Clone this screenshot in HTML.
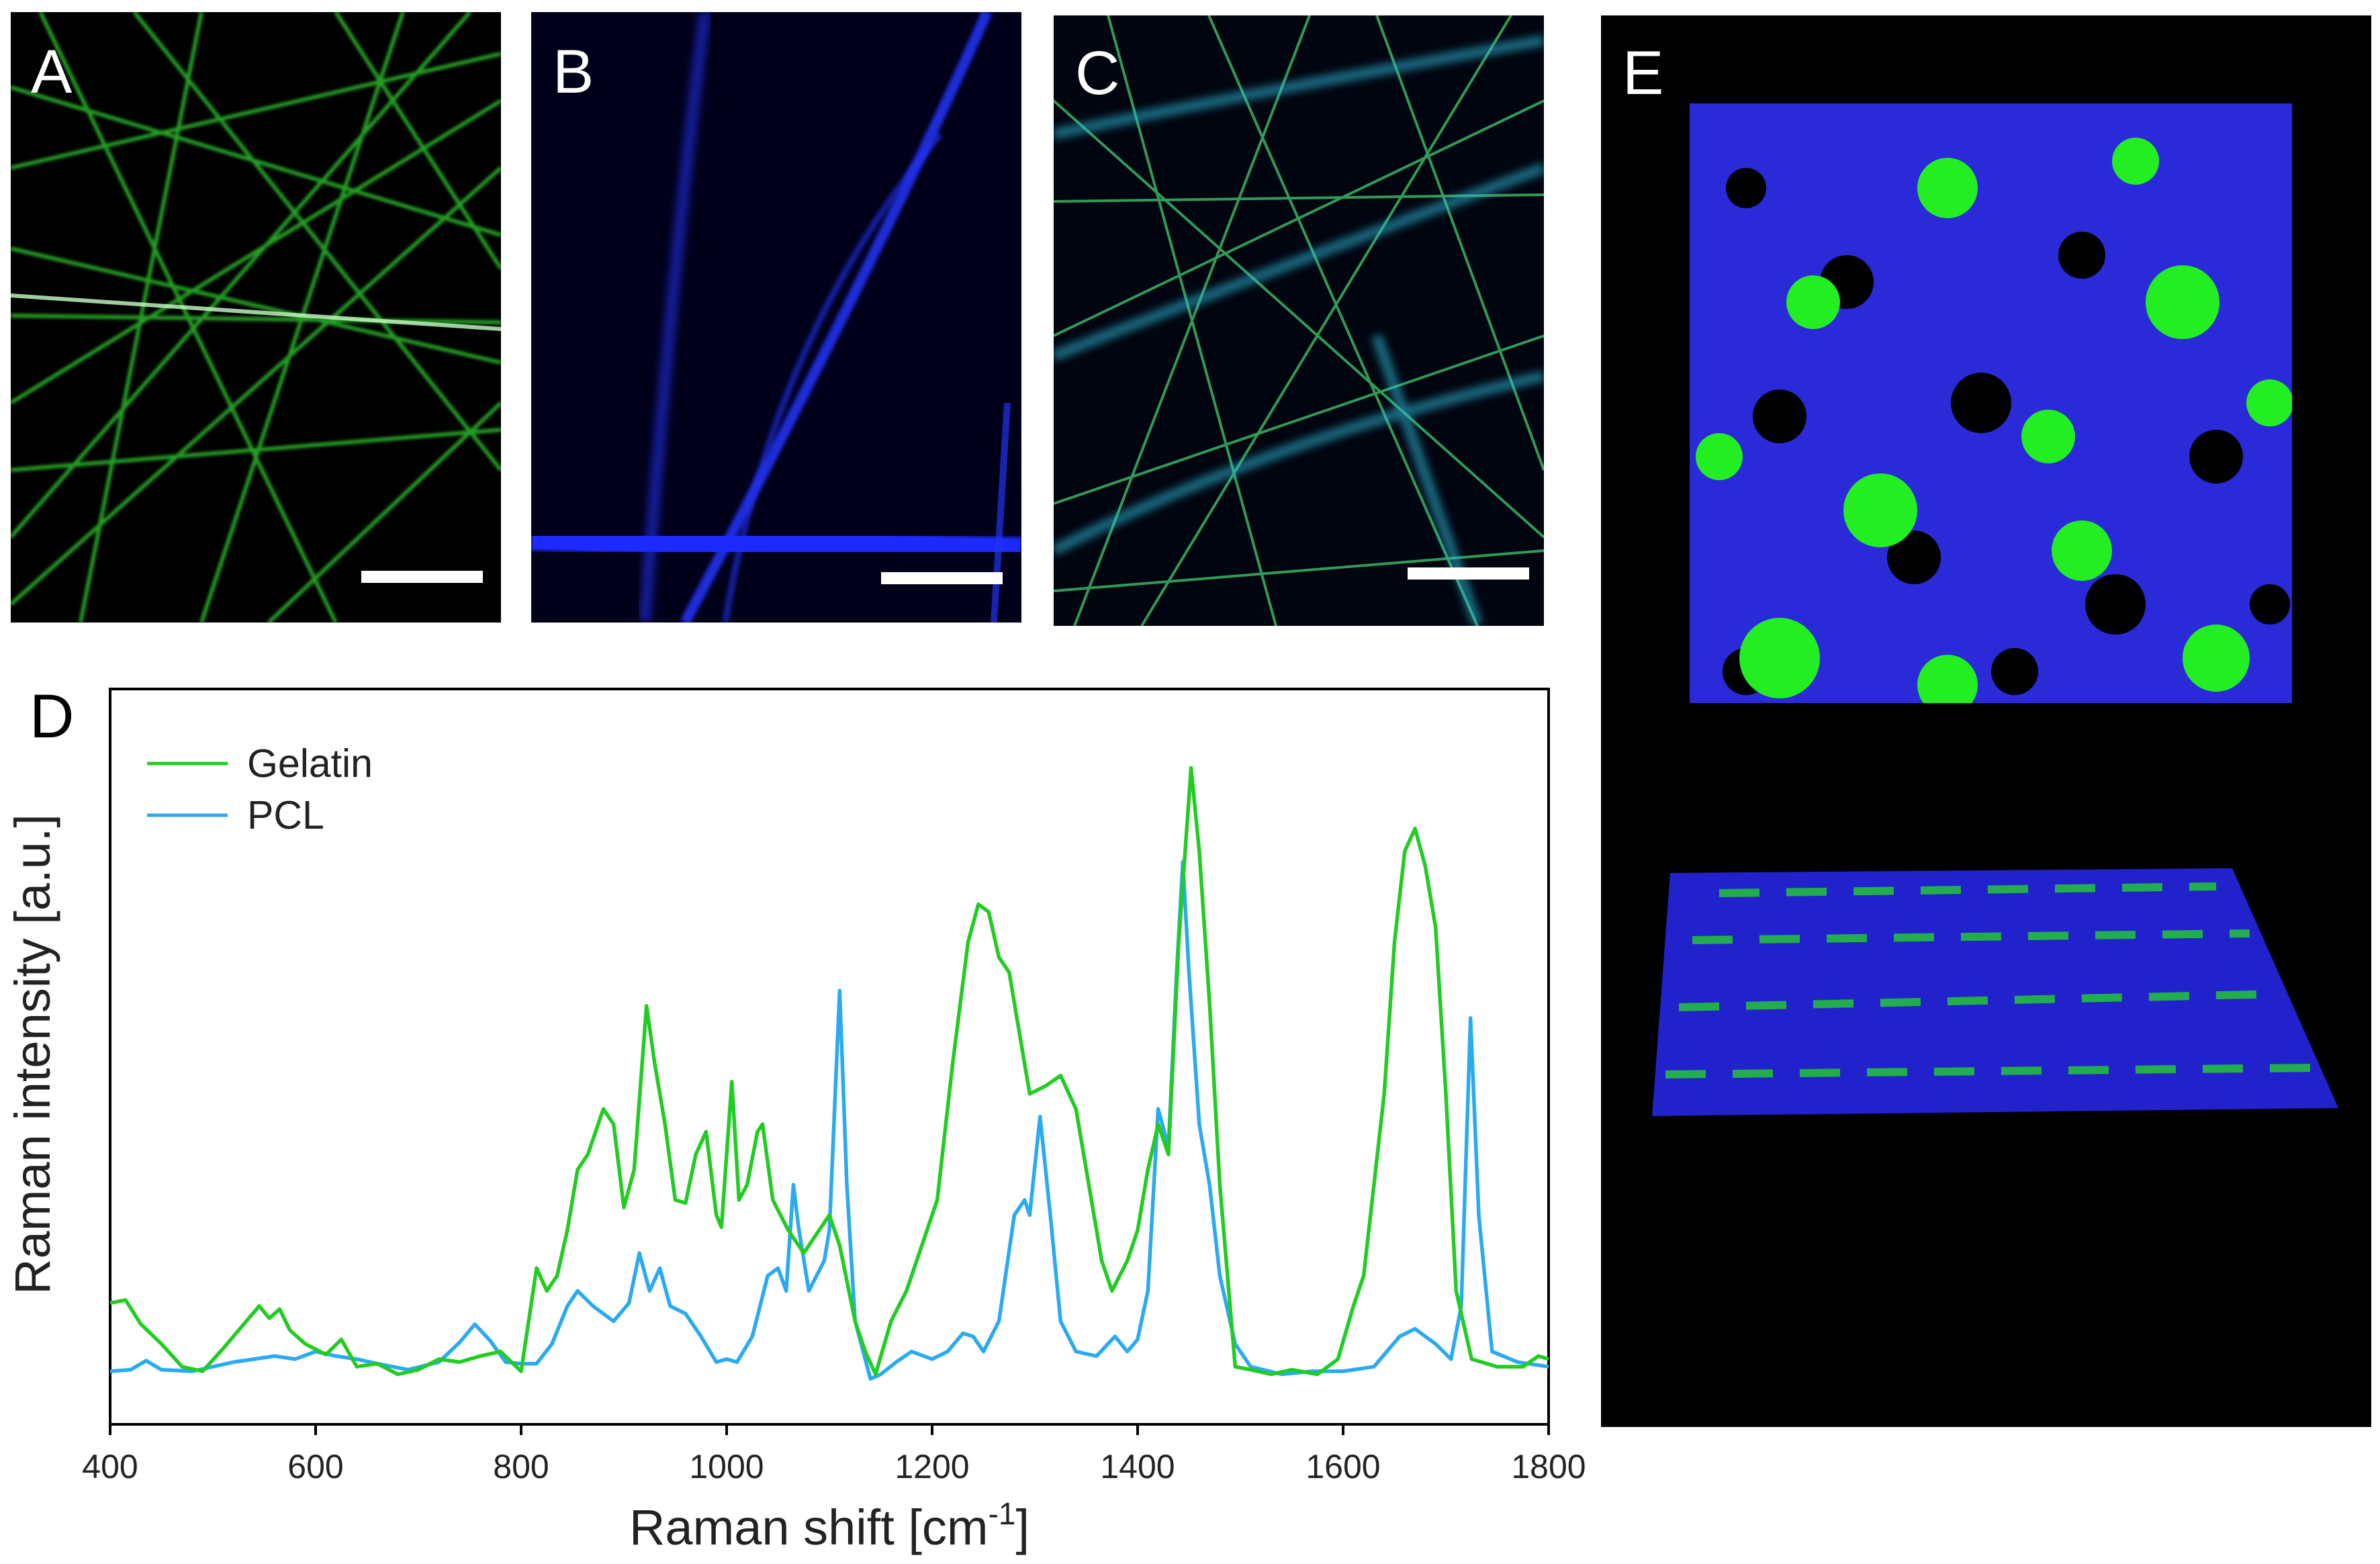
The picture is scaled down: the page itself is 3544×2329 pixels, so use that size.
<!DOCTYPE html>
<html><head><meta charset="utf-8"><style>
html,body{margin:0;padding:0;background:#fff;}
svg{display:block;}
text{font-family:"Liberation Sans",Arial,sans-serif;}
</style></head><body>
<svg id="fig" width="3544" height="2329" viewBox="0 0 3544 2329">
 <defs>
  <filter id="blur6"><feGaussianBlur stdDeviation="6"/></filter>
  <filter id="blur3"><feGaussianBlur stdDeviation="3"/></filter>
  <filter id="blur2"><feGaussianBlur stdDeviation="2"/></filter>
  <clipPath id="cA"><rect x="16" y="18" width="730" height="909"/></clipPath>
  <clipPath id="cB"><rect x="791" y="18" width="730" height="909"/></clipPath>
  <clipPath id="cC"><rect x="1569" y="23" width="730" height="909"/></clipPath>
  <clipPath id="cE"><rect x="2516" y="154" width="897" height="893"/></clipPath>
 </defs>
 <!-- Panel A -->
 <g clip-path="url(#cA)">
  <rect x="16" y="18" width="730" height="909" fill="#000"/>
  <g stroke="#2fc42f" stroke-width="6" fill="none" opacity="0.8" filter="url(#blur2)">
   <line x1="16" y1="370" x2="746" y2="540"/><line x1="16" y1="470" x2="746" y2="480"/>
   <line x1="60" y1="18" x2="500" y2="927"/><line x1="200" y1="18" x2="746" y2="700"/>
   <line x1="16" y1="600" x2="746" y2="150"/><line x1="16" y1="800" x2="700" y2="18"/>
   <line x1="300" y1="18" x2="120" y2="927"/><line x1="400" y1="927" x2="746" y2="600"/>
   <line x1="16" y1="250" x2="746" y2="80"/><line x1="500" y1="18" x2="746" y2="400"/>
   <line x1="16" y1="130" x2="746" y2="350"/><line x1="16" y1="700" x2="746" y2="640"/>
   <line x1="600" y1="18" x2="300" y2="927"/><line x1="16" y1="900" x2="746" y2="250"/>
  </g>
  <line x1="16" y1="440" x2="746" y2="490" stroke="#c8ffc8" stroke-width="6" opacity="0.8"/>
 </g>
 <rect x="538" y="850" width="181" height="18" fill="#fff"/>
 <text x="46" y="138" font-size="92" fill="#fff">A</text>
 <!-- Panel B -->
 <g clip-path="url(#cB)">
  <rect x="791" y="18" width="730" height="909" fill="#00001a"/>
  <g stroke="#2233ee" fill="none">
   <path d="M1050 18 Q1000 400 960 927" stroke-width="18" opacity="0.6" filter="url(#blur6)"/>
   <path d="M1470 18 Q1300 400 1020 927" stroke-width="16" opacity="0.9" filter="url(#blur3)"/>
   <path d="M1400 200 Q1150 500 1080 927" stroke-width="10" opacity="0.6" filter="url(#blur3)"/>
   <line x1="791" y1="800" x2="1521" y2="820" stroke-width="40" stroke="#1a2aff" filter="url(#blur3)"/>
   <line x1="1500" y1="600" x2="1480" y2="927" stroke-width="10" opacity="0.7"/>
  </g>
 </g>
 <rect x="1312" y="852" width="181" height="18" fill="#fff"/>
 <text x="823" y="138" font-size="92" fill="#fff">B</text>
 <!-- Panel C -->
 <g clip-path="url(#cC)">
  <rect x="1569" y="23" width="730" height="909" fill="#000510"/>
  <g stroke="#3fbf6a" stroke-width="4" fill="none" opacity="0.8">
   <line x1="1569" y1="300" x2="2299" y2="290"/><line x1="1569" y1="500" x2="2299" y2="150"/>
   <line x1="1650" y1="23" x2="1900" y2="932"/><line x1="1800" y1="23" x2="2200" y2="932"/>
   <line x1="2250" y1="23" x2="1700" y2="932"/><line x1="1569" y1="750" x2="2299" y2="500"/>
   <line x1="2050" y1="23" x2="2299" y2="700"/><line x1="1569" y1="150" x2="2299" y2="800"/>
   <line x1="1950" y1="23" x2="1600" y2="932"/><line x1="1569" y1="880" x2="2299" y2="820"/>
  </g>
  <g stroke="#30c0e0" fill="none" stroke-width="16" opacity="0.55" filter="url(#blur6)">
   <path d="M1569 200 Q1800 150 2299 60"/><path d="M1569 530 Q1900 400 2299 250"/>
   <path d="M1569 820 Q1900 650 2299 560"/><path d="M2050 500 L2200 930"/>
  </g>
 </g>
 <rect x="2096" y="845" width="181" height="18" fill="#fff"/>
 <text x="1601" y="140" font-size="92" fill="#fff">C</text>
 <!-- Panel E -->
 <rect x="2384" y="23" width="1147" height="2102" fill="#000"/>
 <text x="2416" y="140" font-size="92" fill="#fff">E</text>
 <g clip-path="url(#cE)">
  <rect x="2516" y="154" width="897" height="893" fill="#2a2ad8"/>
  <g fill="#000">
   <circle cx="2600" cy="280" r="30"/><circle cx="2750" cy="420" r="40"/><circle cx="3100" cy="380" r="35"/>
   <circle cx="2650" cy="620" r="40"/><circle cx="2950" cy="600" r="45"/><circle cx="3300" cy="680" r="40"/>
   <circle cx="2850" cy="830" r="40"/><circle cx="3150" cy="900" r="45"/><circle cx="2600" cy="1000" r="35"/>
   <circle cx="3380" cy="900" r="30"/><circle cx="3000" cy="1000" r="35"/>
  </g>
  <g fill="#22ee22">
   <circle cx="2900" cy="280" r="45"/><circle cx="3180" cy="240" r="35"/><circle cx="3250" cy="450" r="55"/>
   <circle cx="2800" cy="760" r="55"/><circle cx="3050" cy="650" r="40"/><circle cx="2650" cy="980" r="60"/>
   <circle cx="3300" cy="980" r="50"/><circle cx="3100" cy="820" r="45"/><circle cx="2700" cy="450" r="40"/>
   <circle cx="3380" cy="600" r="35"/><circle cx="2560" cy="680" r="35"/><circle cx="2900" cy="1020" r="45"/>
  </g>
 </g>
 <g>
  <polygon points="2487,1300 3324,1293 3482,1650 2460,1662" fill="#2222cc"/>
  <g stroke="#22dd22" stroke-width="12" opacity="0.75" stroke-dasharray="60 40">
   <line x1="2520" y1="1400" x2="3350" y2="1390"/><line x1="2500" y1="1500" x2="3400" y2="1480"/>
   <line x1="2480" y1="1600" x2="3450" y2="1590"/><line x1="2560" y1="1330" x2="3300" y2="1320"/>
  </g>
 </g>
 <!-- Chart D -->
 <text x="44" y="1098" font-size="92" fill="#000">D</text>
 <g id="chart"></g>
</svg>
<script>
const gelatinX=[400,415,430,450,470,490,510,530,545,555,565,575,590,610,625,640,660,680,700,720,740,760,780,800,815,825,835,845,855,865,880,890,900,910,922,930,940,950,960,970,980,990,995,1005,1012,1020,1030,1035,1045,1060,1075,1090,1100,1110,1125,1135,1145,1160,1175,1190,1205,1220,1235,1245,1255,1265,1275,1285,1295,1310,1325,1340,1350,1365,1375,1390,1400,1410,1420,1430,1440,1452,1460,1470,1480,1495,1510,1530,1550,1575,1595,1610,1620,1630,1640,1650,1660,1670,1680,1690,1700,1710,1725,1750,1775,1790,1800];
const gelatinPix=[858,856,872,885,900,903,888,872,860,868,862,876,885,892,882,900,898,905,902,895,897,893,890,903,835,850,840,810,770,760,730,740,795,770,662,700,740,790,792,760,745,800,808,712,790,780,745,740,790,810,825,810,800,820,870,890,905,870,850,820,790,700,620,595,600,630,640,680,720,715,708,730,770,830,850,830,810,770,740,760,620,505,560,660,780,900,902,905,902,905,895,860,840,780,720,620,560,545,570,610,720,850,895,900,900,893,895];
const gelatinY=gelatinPix.map(p=>938-p);
const pclX=[400,420,435,450,480,520,560,580,600,620,640,660,690,720,740,755,770,785,800,815,830,845,855,870,890,905,915,925,935,945,960,975,990,1000,1010,1025,1040,1050,1058,1065,1070,1080,1095,1100,1110,1117,1125,1140,1150,1165,1180,1200,1215,1230,1240,1250,1265,1280,1290,1295,1305,1315,1325,1340,1360,1378,1390,1400,1410,1420,1430,1438,1444,1450,1460,1470,1480,1495,1510,1540,1570,1600,1630,1655,1670,1690,1705,1715,1724,1732,1745,1770,1800];
const pclPix=[903,902,896,902,903,897,893,895,890,893,895,898,902,897,884,872,883,897,898,898,885,860,850,860,870,858,825,850,835,860,865,880,897,895,897,880,840,835,850,780,808,850,830,810,652,780,870,908,905,897,890,895,890,878,880,890,870,800,790,800,735,800,870,890,893,880,890,882,850,730,755,640,567,640,740,780,840,885,900,905,903,903,900,880,875,885,895,860,670,800,890,897,900];
const pclY=pclPix.map(p=>938-p);
const xTicks=[400,600,800,1000,1200,1400,1600,1800];
const seriesNames=["Gelatin","PCL"];

const NS="http://www.w3.org/2000/svg";
const L=164,R=2306,T=1026,B=2121;
const xs=v=>L+(v-400)/(1800-400)*(R-L);
const ys=v=>B-(v/485)*(B-T);
const g=document.getElementById('chart');
function mk(tag,attrs){const e=document.createElementNS(NS,tag);for(const k in attrs)e.setAttribute(k,attrs[k]);g.appendChild(e);return e;}
const frame=mk('rect',{x:L,y:T,width:R-L,height:B-T,fill:'#fff',stroke:'#000','stroke-width':4});


function line(xa,ya,color,name){
 const d=xa.map((x,i)=>(i?'L':'M')+xs(x).toFixed(1)+' '+ys(ya[i]).toFixed(1)).join(' ');
 const p=mk('path',{d:d,fill:'none',stroke:color,'stroke-width':5.5,'stroke-linejoin':'round'});
 
 
}
line(pclX,pclY,'#2aaaf0','pcl-line');
line(gelatinX,gelatinY,'#22cc22','gelatin-line');
xTicks.forEach(t=>{
 const tk=mk('line',{x1:xs(t),x2:xs(t),y1:B,y2:B+16,stroke:'#000','stroke-width':4});
 
 
 const lb=mk('text',{x:xs(t),y:B+80,'font-size':50,'text-anchor':'middle',fill:'#222'});
 lb.textContent=t;
 
 
});
const xt=mk('text',{x:(L+R)/2,y:2300,'font-size':74,'text-anchor':'middle',fill:'#222'});
xt.innerHTML='Raman shift [cm<tspan font-size="46" dy="-30">-1</tspan><tspan dy="30">]</tspan>';


const yt=mk('text',{x:0,y:0,'font-size':74,'text-anchor':'middle',fill:'#222',transform:'translate(74,1570) rotate(-90)'});
yt.textContent='Raman intensity [a.u.]';


const legColors=['#22cc22','#2aaaf0'];
seriesNames.forEach((n,i)=>{
 const y=1137+i*77;
 const ll=mk('line',{x1:219,x2:339,y1:y,y2:y,stroke:legColors[i],'stroke-width':5});
 
 
 const lt=mk('text',{x:368,y:y+20,'font-size':59,fill:'#222'});
 lt.textContent=n;
 
 
});
</script>
</body></html>
